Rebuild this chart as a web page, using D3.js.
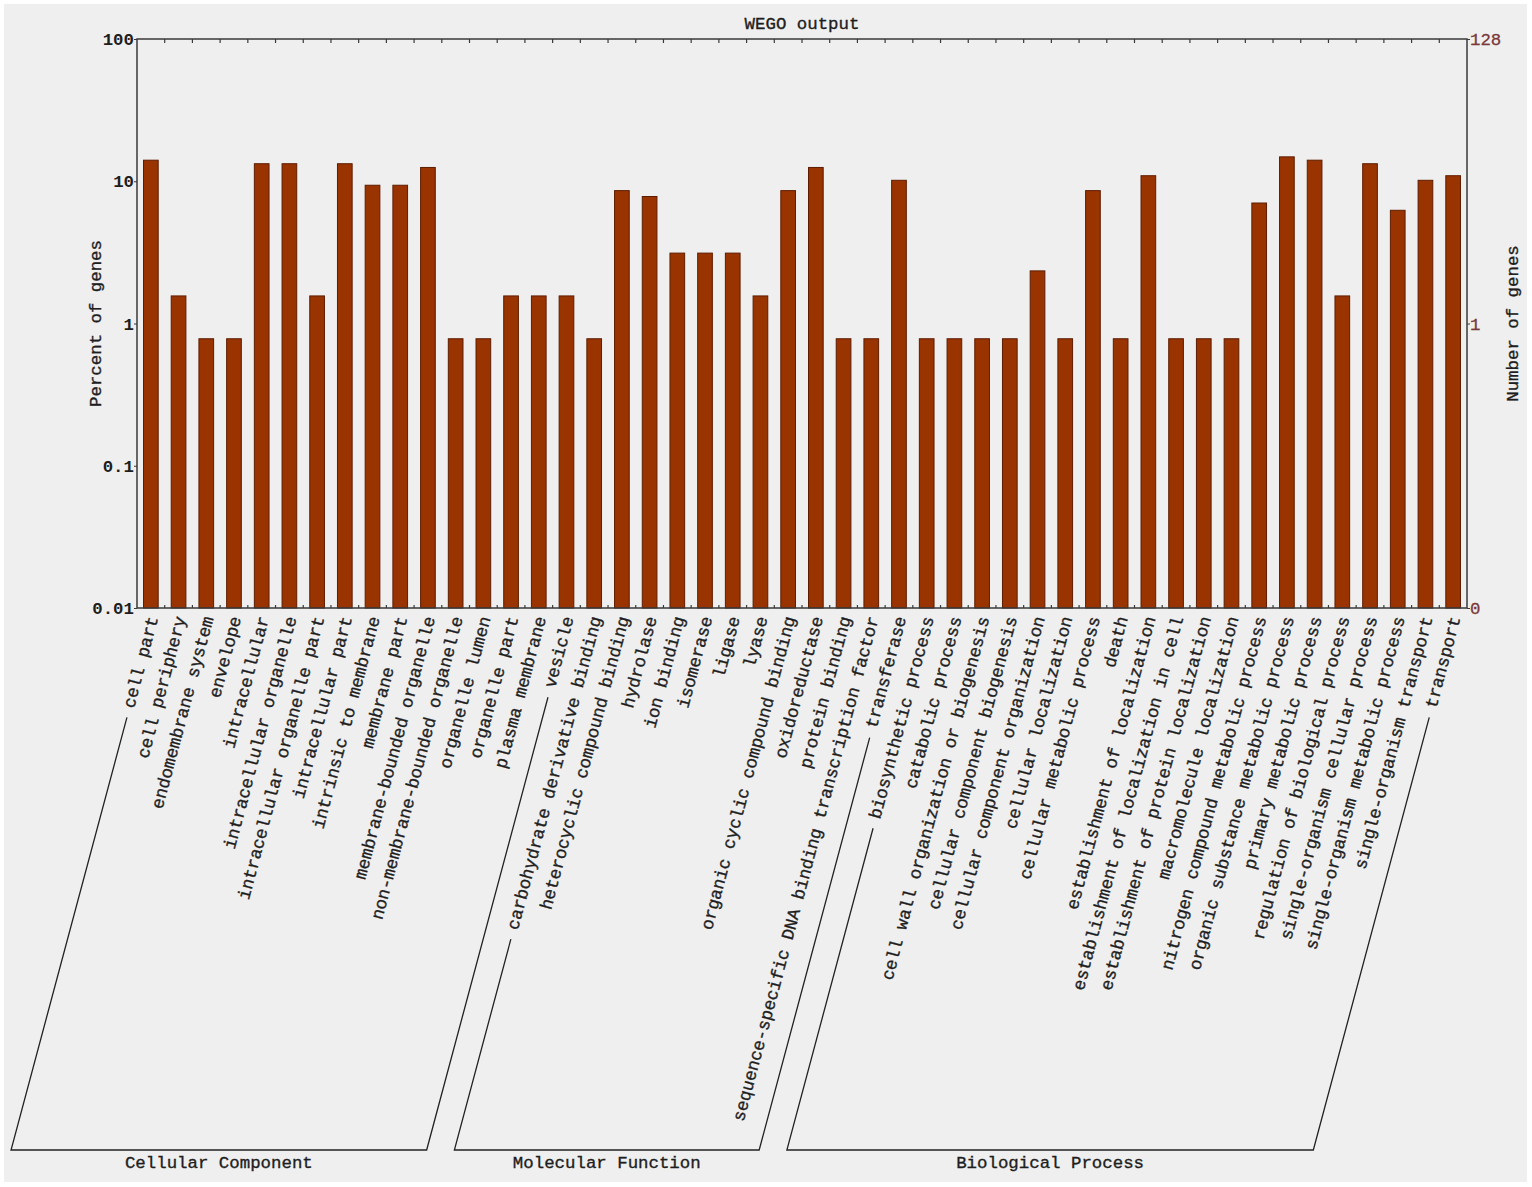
<!DOCTYPE html>
<html><head><meta charset="utf-8">
<script src="https://cdn.jsdelivr.net/npm/d3@7/dist/d3.min.js"></script>
<style>
body{margin:0;background:#fff;}
text{font-family:"Liberation Mono","DejaVu Sans Mono",monospace;}
</style>
</head><body>
<svg id="chart" width="1532" height="1187"></svg>
<script>
const categories = [
  "cell part","cell periphery","endomembrane system","envelope","intracellular",
  "intracellular organelle","intracellular organelle part","intracellular part",
  "intrinsic to membrane","membrane part","membrane-bounded organelle",
  "non-membrane-bounded organelle","organelle lumen","organelle part","plasma membrane","vesicle",
  "carbohydrate derivative binding","heterocyclic compound binding","hydrolase","ion binding",
  "isomerase","ligase","lyase","organic cyclic compound binding","oxidoreductase","protein binding",
  "sequence-specific DNA binding transcription factor","transferase",
  "biosynthetic process","catabolic process","cell wall organization or biogenesis",
  "cellular component biogenesis","cellular component organization","cellular localization",
  "cellular metabolic process","death","establishment of localization",
  "establishment of localization in cell","establishment of protein localization",
  "macromolecule localization","nitrogen compound metabolic process",
  "organic substance metabolic process","primary metabolic process",
  "regulation of biological process","single-organism cellular process",
  "single-organism metabolic process","single-organism transport","transport"
];
const geneCounts = [
  18,2,1,1,17,17,2,17,12,12,16,1,1,2,2,2,
  1,11,10,4,4,4,2,11,16,1,1,13,
  1,1,1,1,3,1,11,1,14,1,1,1,9,19,18,2,17,8,13,14
];
const groupNames = ["Cellular Component","Molecular Function","Biological Process"];
const groupSizes = [16,12,20];
const totalGenes = 128;
const percentTicks = [0.01,0.1,1,10,100];
const percentTickLabels = ["0.01","0.1","1","10","100"];
const countTickPositions = [0.01,1,100];
const countTickLabels = ["0","1","128"];
const titleText = "WEGO output";
const leftTitle = "Percent of genes";
const rightTitle = "Number of genes";

const svg = d3.select("#chart");
const W = 1532, H = 1187;
const m = {left:137, right:1467, top:39, bottom:608};
const FS = 17.4;
const ANG = 75;
const FONT = "Liberation Mono";
const TXT = "#1e1e1e";

svg.append("rect").attr("x",4).attr("y",4).attr("width",W-9).attr("height",H-9).attr("fill","#efefef");

const x = d3.scaleBand().domain(categories).range([m.left,m.right]).paddingInner(0).paddingOuter(0);
const y = d3.scaleLog().domain([0.01,100]).range([m.bottom,m.top]);

const data = categories.map((c,i)=>({cat:c, n:geneCounts[i], pct:geneCounts[i]/totalGenes*100}));

// bars
const bw = x.bandwidth()*0.53;
svg.append("g").selectAll("rect").data(data).join("rect")
  .attr("x",d=>x(d.cat)+x.bandwidth()/2-bw/2)
  .attr("y",d=>y(d.pct))
  .attr("width",bw)
  .attr("height",d=>y(0.01)-y(d.pct))
  .attr("fill","#993300").attr("stroke","#5e1d00").attr("stroke-width",1);

// frame
svg.append("rect").attr("x",m.left).attr("y",m.top).attr("width",m.right-m.left).attr("height",m.bottom-m.top)
  .attr("fill","none").attr("stroke","#3a3a3a").attr("stroke-width",1.5);

// top & bottom ticks at band boundaries
const bounds = categories.map(c=>x(c)).slice(1);
svg.append("g").selectAll("line").data(bounds).join("line")
  .attr("x1",d=>d).attr("x2",d=>d).attr("y1",m.top).attr("y2",m.top+4).attr("stroke","#3a3a3a").attr("stroke-width",1.2);
svg.append("g").selectAll("line").data(bounds).join("line")
  .attr("x1",d=>d).attr("x2",d=>d).attr("y1",m.bottom).attr("y2",m.bottom-3).attr("stroke","#3a3a3a").attr("stroke-width",1.2);

// left axis
const la = svg.append("g").attr("transform",`translate(${m.left},0)`)
  .call(d3.axisLeft(y).tickValues(percentTicks).tickFormat((d,i)=>percentTickLabels[i]).tickSize(3).tickPadding(0));
la.select(".domain").remove();
la.selectAll("line").attr("stroke","#3a3a3a");
la.selectAll("text").attr("font-size",FS).attr("fill",TXT).attr("font-family",FONT).attr("font-weight","bold");

// right axis (count labels drawn at the matching percent positions)
const ra = svg.append("g").attr("transform",`translate(${m.right},0)`)
  .call(d3.axisRight(y).tickValues(countTickPositions).tickFormat((d,i)=>countTickLabels[i]).tickSize(3).tickPadding(0));
ra.select(".domain").remove();
ra.selectAll("line").attr("stroke","#3a3a3a");
ra.selectAll("text").attr("font-size",FS).attr("fill","#7a3838").attr("font-family",FONT)
  .attr("stroke","#7a3838").attr("stroke-width",0.3);

// titles
const heavy = sel => sel.attr("stroke",TXT).attr("stroke-width",0.35);
heavy(svg.append("text").attr("x",(m.left+m.right)/2).attr("y",24).attr("text-anchor","middle")
  .attr("dominant-baseline","central").attr("font-size",FS).attr("fill",TXT).text(titleText));
heavy(svg.append("text").attr("transform",`translate(96,${(m.top+m.bottom)/2}) rotate(-90)`).attr("text-anchor","middle")
  .attr("dominant-baseline","central").attr("font-size",FS).attr("fill",TXT).text(leftTitle));
heavy(svg.append("text").attr("transform",`translate(1513,${(m.top+m.bottom)/2}) rotate(-90)`).attr("text-anchor","middle")
  .attr("dominant-baseline","central").attr("font-size",FS).attr("fill",TXT).text(rightTitle));

// category labels
const ax0 = 3, ay0 = m.bottom+9;
const labels = svg.append("g").selectAll("text").data(data).join("text")
  .attr("transform",d=>`translate(${x(d.cat)+x.bandwidth()/2+ax0},${ay0}) rotate(${-ANG})`)
  .attr("text-anchor","end").attr("dominant-baseline","central")
  .attr("font-size",FS).attr("fill",TXT).attr("stroke",TXT).attr("stroke-width",0.35).text(d=>d.cat);

const lens = [];
labels.each(function(){ lens.push(this.getComputedTextLength()); });

// group brackets
const baseY = 1150;
const rad = ANG*Math.PI/180;
const ux = Math.cos(rad), uy = Math.sin(rad);
let start = 0;
const gb = svg.append("g").attr("stroke","#222").attr("stroke-width",1.3).attr("fill","none");
groupSizes.forEach((sz,gi)=>{
  const iA = start, iB = start+sz-1;
  const pt = (i)=>{
    const ax = x(categories[i])+x.bandwidth()/2+ax0, ay = ay0;
    const t0 = lens[i]+10;
    const sx = ax - t0*ux, sy = ay + t0*uy;
    const t1 = (baseY-ay)/uy;
    const ex = ax - t1*ux;
    return {sx,sy,ex};
  };
  const a = pt(iA), b = pt(iB);
  gb.append("path").attr("d",`M${a.sx},${a.sy}L${a.ex},${baseY}L${b.ex},${baseY}L${b.sx},${b.sy}`);
  heavy(svg.append("text").attr("x",(a.ex+b.ex)/2).attr("y",1163).attr("text-anchor","middle")
    .attr("dominant-baseline","central").attr("font-size",FS).attr("fill",TXT).text(groupNames[gi]));
  start += sz;
});
</script>
</body></html>
